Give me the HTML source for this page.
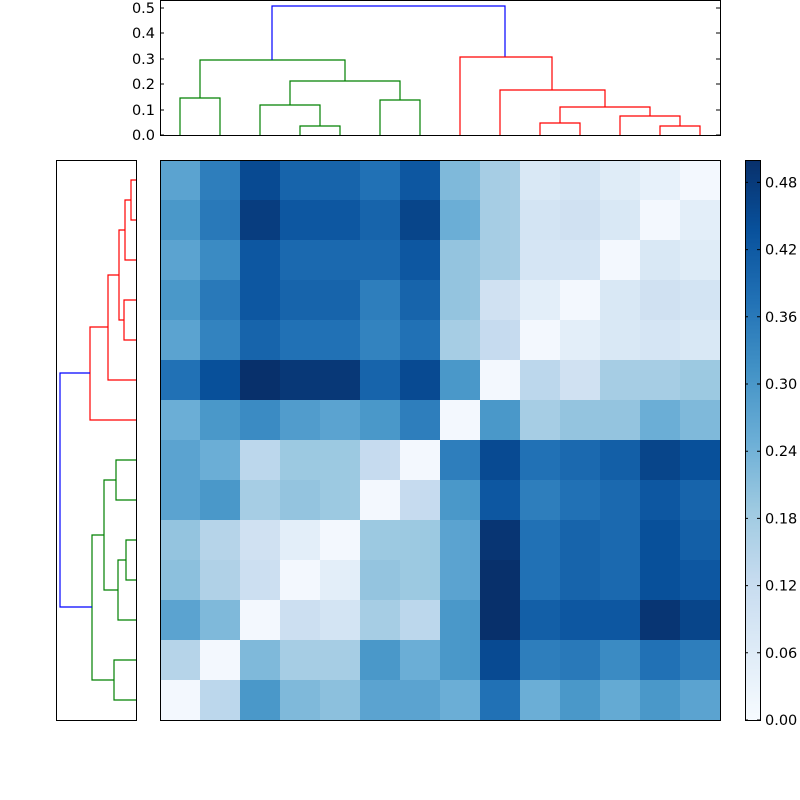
<!DOCTYPE html>
<html><head><meta charset="utf-8"><style>body{margin:0;background:#fff}svg{display:block}text{font-family:"DejaVu Sans","Liberation Sans",sans-serif;font-size:14.5px}</style></head>
<body>
<svg id="s" width="800" height="800" xmlns="http://www.w3.org/2000/svg">
<g id="hm"></g>
<g id="cb"></g>
<rect x="160.5" y="160.5" width="560" height="560" fill="none" stroke="#000"/>
<rect x="745.5" y="160.5" width="15" height="560" fill="none" stroke="#000"/>
<rect x="160.5" y="0.5" width="560" height="135" fill="none" stroke="#000"/>
<g fill="none" stroke-width="1.2">
<g stroke="green">
<path d="M180 135V98H220V135"/>
<path d="M300 135V126H340V135"/>
<path d="M260 135V105H320V126"/>
<path d="M380 135V100H420V135"/>
<path d="M290 105V81H400V100"/>
<path d="M200 98V60H345V81"/>
</g>
<path stroke="blue" d="M272 60V6H505V57"/>
<g stroke="red">
<path d="M540 135V123H580V135"/>
<path d="M660 135V126H700V135"/>
<path d="M620 135V116H680V126"/>
<path d="M560 123V107H650V116"/>
<path d="M500 135V90H605V107"/>
<path d="M460 135V57H552V90"/>
</g>
</g>
<g text-anchor="end">
<text x="155" y="140">0.0</text><text x="155" y="115">0.1</text><text x="155" y="89">0.2</text>
<text x="155" y="64">0.3</text><text x="155" y="38">0.4</text><text x="155" y="13">0.5</text>
</g>
<g stroke="#000"><path d="M160 135h4M160 110h4M160 84h4M160 59h4M160 33h4M160 8h4M720 135h-4M720 110h-4M720 84h-4M720 59h-4M720 33h-4M720 8h-4"/></g>
<rect x="56.5" y="160.5" width="80" height="560" fill="none" stroke="#000"/>
<g fill="none" stroke-width="1.2">
<g stroke="red">
<path d="M136 180H131V220H136"/>
<path d="M131 200H125V260H136"/>
<path d="M136 300H124V340H136"/>
<path d="M125 230H119V320H124"/>
<path d="M119 275H108V380H136"/>
<path d="M108 327H90V420H136"/>
</g>
<g stroke="green">
<path d="M136 460H116V500H136"/>
<path d="M136 540H126V580H136"/>
<path d="M126 560H118V620H136"/>
<path d="M116 480H104V590H118"/>
<path d="M136 660H114V700H136"/>
<path d="M104 535H92V680H114"/>
</g>
<path stroke="blue" d="M90 373H60V607H92"/>
</g>
<g id="cbt"></g>
</svg>
<script>
var stops=[[247,251,255],[222,235,247],[198,219,239],[158,202,225],[107,174,214],[66,146,198],[33,113,181],[8,81,156],[8,48,107]];
function blues(t){t=Math.max(0,Math.min(1,t));var p=t*8,i=Math.min(7,Math.floor(p)),f=p-i,a=stops[i],b=stops[i+1];
return 'rgb('+[0,1,2].map(k=>Math.round(a[k]+(b[k]-a[k])*f)).join(',')+')';}
var D=[
[0.55,0.7,0.9,0.8,0.8,0.75,0.85,0.45,0.35,0.15,0.18,0.12,0.08,0.02],
[0.6,0.72,0.95,0.85,0.85,0.8,0.92,0.5,0.35,0.18,0.2,0.15,0.02,0.1],
[0.55,0.65,0.85,0.78,0.78,0.78,0.85,0.4,0.35,0.17,0.17,0.02,0.15,0.12],
[0.6,0.72,0.85,0.8,0.8,0.7,0.8,0.4,0.2,0.1,0.02,0.15,0.2,0.18],
[0.55,0.68,0.8,0.75,0.75,0.68,0.75,0.35,0.25,0.02,0.1,0.15,0.17,0.15],
[0.75,0.88,1.0,0.97,0.97,0.8,0.9,0.6,0.02,0.28,0.2,0.35,0.35,0.38],
[0.5,0.6,0.65,0.58,0.55,0.6,0.7,0.02,0.6,0.35,0.4,0.4,0.5,0.45],
[0.55,0.5,0.28,0.38,0.38,0.25,0.02,0.7,0.9,0.75,0.78,0.82,0.92,0.88],
[0.55,0.6,0.35,0.4,0.38,0.02,0.25,0.6,0.85,0.7,0.75,0.78,0.85,0.8],
[0.4,0.3,0.2,0.1,0.02,0.38,0.38,0.55,0.98,0.75,0.8,0.78,0.88,0.82],
[0.42,0.32,0.22,0.02,0.1,0.4,0.38,0.55,1.0,0.75,0.8,0.78,0.88,0.85],
[0.55,0.45,0.02,0.22,0.18,0.35,0.28,0.6,1.0,0.82,0.85,0.85,0.98,0.92],
[0.3,0.02,0.45,0.35,0.35,0.6,0.5,0.6,0.9,0.7,0.72,0.65,0.75,0.7],
[0.02,0.28,0.6,0.45,0.42,0.55,0.55,0.5,0.75,0.5,0.6,0.52,0.6,0.55]];
var NS='http://www.w3.org/2000/svg',hm=document.getElementById('hm'),cb=document.getElementById('cb'),cbt=document.getElementById('cbt');
function el(tag,at,par){var e=document.createElementNS(NS,tag);for(var k in at)e.setAttribute(k,at[k]);par.appendChild(e);return e;}
D.forEach((r,i)=>r.forEach((v,j)=>el('rect',{x:160+40*j,y:160+40*i,width:40,height:40,fill:blues(v)},hm)));
for(var y=0;y<560;y++)el('rect',{x:745,y:720-y-1,width:16,height:1.5,fill:blues(y/560)},cb);
['0.00','0.06','0.12','0.18','0.24','0.30','0.36','0.42','0.48'].forEach((s,i)=>{var yy=720-i*67.2;
el('path',{d:'M745 '+yy+'h3M760 '+yy+'h-3',stroke:'#000'},cbt);
var t=el('text',{x:765,y:yy+5},cbt);t.textContent=s;});
</script>
</body></html>
